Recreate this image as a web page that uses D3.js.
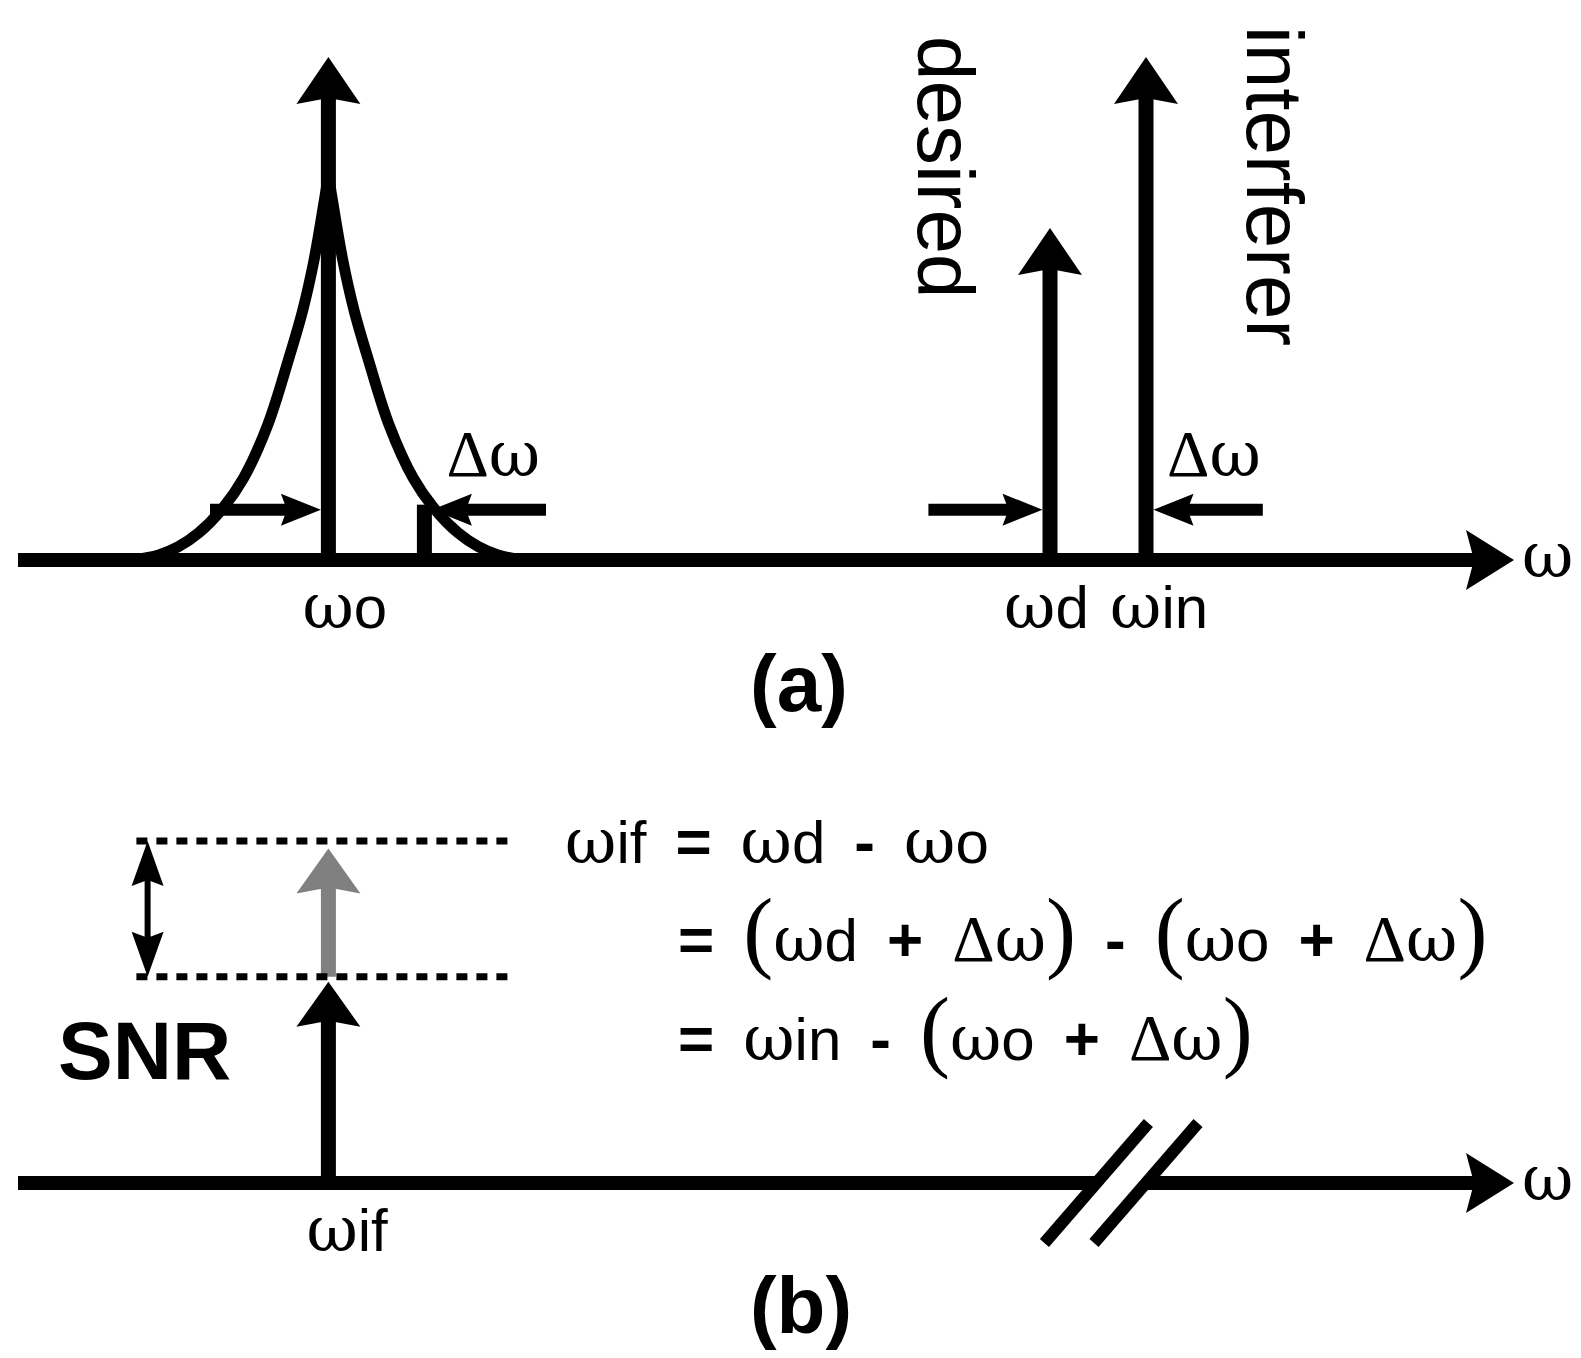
<!DOCTYPE html>
<html>
<head>
<meta charset="utf-8">
<script src="https://cdn.jsdelivr.net/npm/d3@7"></script>
<style>
body { margin: 0; background: #fff; }
</style>
</head>
<body>
<script>
var width = 1581, height = 1358;

// (a) tones: LO, desired, interferer
var toneLabels = ['ωo', 'ωd', 'ωin'];
var toneFreqs = [19.4, 64.5, 70.5];
var toneAmps = [100, 66, 100];
var deltaOmega = 6;

// LO phase-noise skirt, one side: offset from ωo and level
var skirtOffsets = [12.2, 10.6, 9.4, 8.1, 6.6, 5.3, 3.8, 2.5, 1.6, 0.9, 0.3, 0];
var skirtLevels = [0, 1.0, 2.6, 5.4, 10.3, 16.3, 26.8, 39.8, 49.7, 59.6, 70.6, 76.5];

// Δω arrows: tail and head frequency
var deltaTails = [12.0, 33.0, 56.9, 77.8];
var deltaHeads = [19.4, 25.4, 64.5, 70.5];
var deltaLevel = 10;
var offsetBarLevel = 11;

// (b) IF output
var ifLabel = 'ωif';
var ifFreq = 19.4;
var ifAmp = 40;        // with reciprocal mixing
var ifAmpIdeal = 66.5; // grey: without it
var snrLevels = [68, 41];
var snrSpan = [7.4, 31.1];
var snrArrowFreq = 8.1;
var breakFreqs = [67.4, 70.5];
var axisEnd = 93.5;

var eqLines = ['ωif = ωd - ωo', '= (ωd + Δω) - (ωo + Δω)', '= ωin - (ωo + Δω)'];

var svg = d3.select('body')
  .append('svg')
  .attr('width', width)
  .attr('height', height)
  .style('font-family', "'Liberation Sans', Arial, sans-serif");

var x = d3.scaleLinear().domain([0, axisEnd]).range([18, 1514]);
var yTop = d3.scaleLinear().domain([0, 100]).range([560, 57]);
var yBot = d3.scaleLinear().domain([0, 100]).range([1183, 680]);

var dirs = { up: [0, -1], down: [0, 1], left: [-1, 0], right: [1, 0] };

// filled arrow head with a small notch at the back, returns where the shaft should stop
function head(g, tx, ty, dir, len, half, notch, color) {
  var d = dirs[dir], px = -d[1], py = d[0];
  var bx = tx - d[0] * len, by = ty - d[1] * len;
  var nx = tx - d[0] * (len - notch), ny = ty - d[1] * (len - notch);
  g.append('path')
    .attr('d', 'M' + tx + ',' + ty +
      'L' + (bx + px * half) + ',' + (by + py * half) +
      'L' + nx + ',' + ny +
      'L' + (bx - px * half) + ',' + (by - py * half) + 'Z')
    .attr('fill', color);
  return [nx + d[0] * 2, ny + d[1] * 2];
}

function arrow(g, x0, y0, x1, y1, dir, w, len, half, notch, color) {
  var end = head(g, x1, y1, dir, len, half, notch, color);
  g.insert('line', ':last-child')
    .attr('x1', x0).attr('y1', y0).attr('x2', end[0]).attr('y2', end[1])
    .attr('stroke', color).attr('stroke-width', w);
}

// text with greek letters and brackets in a serif face
function rich(t, str) {
  var runs = [];
  str.split('').forEach(function (c) {
    var k = c === 'ω' ? 'w' : c === 'Δ' ? 'g' : /[()]/.test(c) ? 'p' : /[=+\-]/.test(c) ? 'o' : 's';
    if (runs.length && runs[runs.length - 1].k === k) runs[runs.length - 1].s += c;
    else runs.push({ k: k, s: c });
  });
  runs.forEach(function (r) {
    var ts = t.append('tspan').text(r.s);
    if (r.k === 'w') ts.style('font-family', "'DejaVu Serif', serif").style('font-size', '63px');
    else if (r.k === 'g') ts.style('font-family', "'Liberation Serif', serif").style('font-size', '66px');
    else if (r.k === 'p') ts.style('font-family', "'Liberation Serif', serif").style('font-size', '90px');
    else if (r.k === 'o') ts.style('font-weight', 'bold').style('font-size', '62px');
    else ts.style('font-size', '60px');
  });
  return t;
}

function freqAxis(g, y0, gaps) {
  var segs = [[0, axisEnd]];
  if (gaps) segs = [[0, gaps[0]], [gaps[1], axisEnd]];
  segs.forEach(function (s, i) {
    if (i === segs.length - 1) {
      arrow(g.append('g'), x(s[0]), y0, x(s[1]), y0, 'right', 14, 48, 30, 8, '#000');
    } else {
      g.append('line').attr('x1', x(s[0])).attr('x2', x(s[1]))
        .attr('y1', y0).attr('y2', y0)
        .attr('stroke', '#000').attr('stroke-width', 14);
    }
  });
  rich(g.append('text').attr('x', x(axisEnd) + 8).attr('y', y0 + 17), 'ω');
}

// ---------- (a) ----------
var panelA = svg.append('g');
freqAxis(panelA, yTop(0));

var skirt = d3.line()
  .x(function (d) { return x(d[0]); })
  .y(function (d) { return yTop(d[1]); })
  .curve(d3.curveCatmullRom.alpha(0.5));
[-1, 1].forEach(function (side) {
  var pts = skirtOffsets.map(function (o, i) { return [toneFreqs[0] + side * o, skirtLevels[i]]; });
  if (side > 0) pts.reverse();
  panelA.append('path').datum(pts)
    .attr('d', skirt)
    .attr('fill', 'none').attr('stroke', '#000').attr('stroke-width', 11);
});

toneFreqs.forEach(function (f, i) {
  arrow(panelA.append('g'), x(f), yTop(0), x(f), yTop(toneAmps[i]), 'up', 15, 47, 32, 6, '#000');
});

// offset marker at ωo + Δω
panelA.append('line')
  .attr('x1', x(toneFreqs[0] + deltaOmega)).attr('x2', x(toneFreqs[0] + deltaOmega))
  .attr('y1', yTop(0)).attr('y2', yTop(offsetBarLevel))
  .attr('stroke', '#000').attr('stroke-width', 15);

deltaTails.forEach(function (t, i) {
  var h = deltaHeads[i], dir = h > t ? 'right' : 'left';
  var tip = x(h) + (dir === 'right' ? -7.5 : 7.5);
  arrow(panelA.append('g'), x(t), yTop(deltaLevel), tip, yTop(deltaLevel), dir, 12, 40, 16, 6, '#000');
});

rich(panelA.append('text').attr('x', x(deltaHeads[1]) + 22).attr('y', 476), 'Δω');
rich(panelA.append('text').attr('x', x(deltaHeads[3]) + 21).attr('y', 476), 'Δω');

var labelShift = { 'ωo': -26, 'ωd': -46, 'ωin': -36 };
toneLabels.forEach(function (l, i) {
  rich(panelA.append('text').attr('x', x(toneFreqs[i]) + labelShift[l]).attr('y', 628), l);
});

panelA.append('text')
  .attr('transform', 'translate(' + (x(toneFreqs[1]) - 132) + ',36) rotate(90)')
  .style('font-size', '80px').text('desired');
panelA.append('text')
  .attr('transform', 'translate(' + (x(toneFreqs[2]) + 101) + ',26) rotate(90)')
  .style('font-size', '80px').text('interferer');

svg.append('text').attr('x', 799).attr('y', 711).attr('text-anchor', 'middle')
  .style('font-size', '80px').style('font-weight', 'bold').text('(a)');

// ---------- (b) ----------
var panelB = svg.append('g');
freqAxis(panelB, yBot(0), breakFreqs);

breakFreqs.forEach(function (b) {
  panelB.append('line')
    .attr('x1', x(b) - 52).attr('y1', yBot(0) + 60)
    .attr('x2', x(b) + 52).attr('y2', yBot(0) - 60)
    .attr('stroke', '#000').attr('stroke-width', 12);
});

arrow(panelB.append('g'), x(ifFreq), yBot(snrLevels[1]), x(ifFreq), yBot(ifAmpIdeal), 'up', 15, 45, 32, 6, '#808080');

snrLevels.forEach(function (l) {
  panelB.append('line')
    .attr('x1', x(snrSpan[0])).attr('x2', x(snrSpan[1]))
    .attr('y1', yBot(l)).attr('y2', yBot(l))
    .attr('stroke', '#000').attr('stroke-width', 7)
    .attr('stroke-dasharray', '11,9');
});

// double arrow spanning the SNR loss
var da = panelB.append('g');
var sx = x(snrArrowFreq);
var e1 = head(da, sx, yBot(snrLevels[0]), 'up', 45, 16, 6, '#000');
var e2 = head(da, sx, yBot(snrLevels[1]), 'down', 45, 16, 6, '#000');
da.insert('line', ':first-child').attr('x1', sx).attr('x2', sx)
  .attr('y1', e1[1]).attr('y2', e2[1])
  .attr('stroke', '#000').attr('stroke-width', 6);

arrow(panelB.append('g'), x(ifFreq), yBot(0), x(ifFreq), yBot(ifAmp), 'up', 15, 45, 32, 6, '#000');

panelB.append('text').attr('x', 58).attr('y', 1079)
  .style('font-size', '82px').style('font-weight', 'bold').text('SNR');

rich(panelB.append('text').attr('x', x(ifFreq) - 22).attr('y', 1251), ifLabel);

// equation, one word at a time so the gaps stay even
var eqStart = [565, 678, 678];
var eqBase = [863, 961, 1060];
eqLines.forEach(function (line, li) {
  var cx = eqStart[li];
  line.split(' ').forEach(function (w) {
    var t = rich(panelB.append('text').attr('x', cx).attr('y', eqBase[li]), w);
    cx += t.node().getComputedTextLength() + 29;
  });
});

svg.append('text').attr('x', 801).attr('y', 1333).attr('text-anchor', 'middle')
  .style('font-size', '80px').style('font-weight', 'bold').text('(b)');
</script>
</body>
</html>
